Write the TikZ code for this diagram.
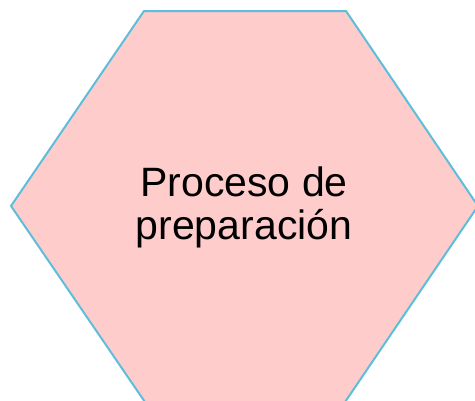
\documentclass[tikz,border=0pt]{standalone}
\usepackage{fontspec}
\setmainfont{Liberation Sans}
\usepackage{tikz}
\definecolor{hexfill}{RGB}{255,204,204}
\definecolor{hexline}{RGB}{92,190,218}

\begin{document}
\begin{tikzpicture}[x=1pt,y=-1pt]
				%%%%% START %%%%%
				\def\xl{11}
				\def\xa{144}
				\def\xb{346}
				\def\xr{478}
				\def\ytop{11}
				\def\ymid{206}
				\def\ybot{405}
				\def\lw{2pt}
				
				\useasboundingbox (0,0) rectangle (475,400);
				\clip (0,0) rectangle (475,400);
				
				\draw[fill=hexfill, draw=hexline, line width=\lw, line join=miter] (\xa,\ytop) -- (\xb,\ytop) -- (\xr,\ymid) -- (\xb-3,\ybot) -- (\xa+3,\ybot) -- (\xl,\ymid) -- cycle;
				
				\node[align=center, inner sep=0pt, font=\fontsize{41}{43}\selectfont] (label) at (244,207) {Proceso de\\preparación};
				%%%%% END %%%%%
			\end{tikzpicture}
\end{document}
